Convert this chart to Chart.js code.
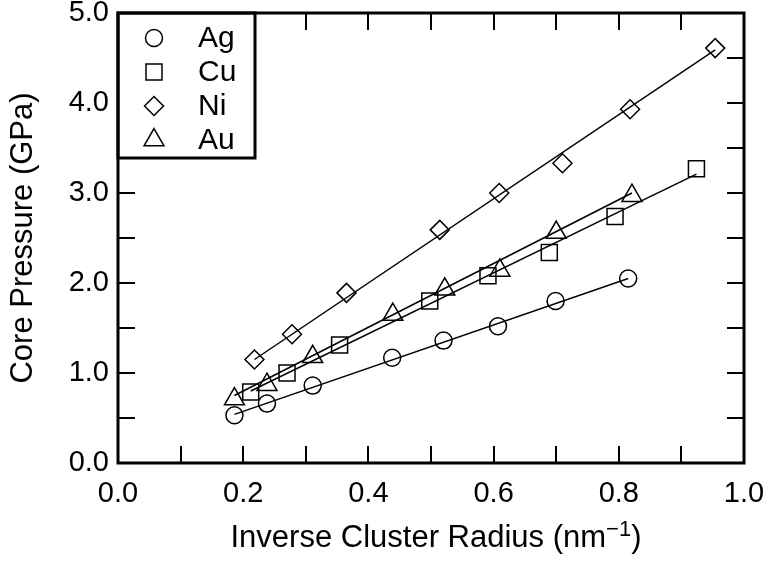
<!DOCTYPE html>
<html>
<head>
<meta charset="utf-8">
<script src="https://cdn.jsdelivr.net/npm/chart.js@4.4.1/dist/chart.umd.min.js"></script>
<style>
    html, body { margin: 0; padding: 0; background: #fff; }
    #wrap { width: 773px; height: 561px; position: relative; }
</style>
</head>
<body>
<div id="wrap"><canvas id="pressure"></canvas></div>
<script>
// Core pressure vs inverse cluster radius

const FONT = '"Liberation Sans", Arial, Helvetica, sans-serif';

const agX = [0.186, 0.238, 0.311, 0.438, 0.520, 0.607, 0.699, 0.815];
const agY = [0.53, 0.66, 0.86, 1.17, 1.36, 1.52, 1.80, 2.05];
const cuX = [0.212, 0.270, 0.354, 0.498, 0.591, 0.689, 0.794, 0.924];
const cuY = [0.79, 1.00, 1.31, 1.80, 2.08, 2.34, 2.74, 3.27];
const niX = [0.218, 0.278, 0.365, 0.514, 0.609, 0.710, 0.818, 0.954];
const niY = [1.15, 1.43, 1.89, 2.59, 3.00, 3.33, 3.93, 4.61];
const auX = [0.186, 0.238, 0.311, 0.439, 0.522, 0.610, 0.700, 0.821];
const auY = [0.71, 0.87, 1.18, 1.65, 1.93, 2.14, 2.56, 2.97];

// linear fit end points
const agFitX = [0.186, 0.815], agFitY = [0.54, 2.05];
const cuFitX = [0.212, 0.924], cuFitY = [0.80, 3.21];
const niFitX = [0.218, 0.954], niFitY = [1.15, 4.59];
const auFitX = [0.186, 0.821], auFitY = [0.75, 3.00];

const xTicks = [0.0, 0.2, 0.4, 0.6, 0.8, 1.0];
const yTicks = [0.0, 1.0, 2.0, 3.0, 4.0, 5.0];

const zip = (xs, ys) => xs.map((x, i) => ({ x: x, y: ys[i] }));

function markers(label, xs, ys, style, radius) {
    return {
        label: label,
        data: zip(xs, ys),
        pointStyle: style,
        pointRadius: radius,
        pointHoverRadius: radius,
        pointBorderWidth: 1.5,
        pointBorderColor: '#000',
        pointBackgroundColor: 'rgba(0,0,0,0)',
        showLine: false,
        isMarker: true
    };
}

function fitLine(xs, ys) {
    return {
        label: 'fit',
        data: zip(xs, ys),
        showLine: true,
        borderColor: '#000',
        borderWidth: 1.5,
        pointRadius: 0,
        fill: false
    };
}

// frame, inward ticks, legend box and x title
const framePlugin = {
    id: 'frame',
    afterDraw(chart) {
        const ctx = chart.ctx;
        const a = chart.chartArea;
        const xs = chart.scales.x, ys = chart.scales.y;
        const tl = 17;
        ctx.save();
        ctx.strokeStyle = '#000';
        ctx.lineWidth = 2;
        ctx.beginPath();
        for (let i = 1; i < 10; i++) {
            const px = Math.round(xs.getPixelForValue(i / 10));
            ctx.moveTo(px, a.bottom); ctx.lineTo(px, a.bottom - tl);
            ctx.moveTo(px, a.top); ctx.lineTo(px, a.top + tl);
        }
        for (let i = 1; i < 10; i++) {
            const py = Math.round(ys.getPixelForValue(i / 2));
            ctx.moveTo(a.left, py); ctx.lineTo(a.left + tl, py);
            ctx.moveTo(a.right, py); ctx.lineTo(a.right - tl, py);
        }
        ctx.stroke();

        // legend
        const lx = a.left, ly = a.top, lw = 137, lh = 145;
        ctx.fillStyle = '#fff';
        ctx.fillRect(lx, ly, lw, lh);
        ctx.lineWidth = 3;
        ctx.strokeRect(lx, ly, lw, lh);

        const sets = chart.data.datasets.filter(d => d.isMarker);
        ctx.font = '30px ' + FONT;
        ctx.textBaseline = 'middle';
        ctx.textAlign = 'left';
        sets.forEach((d, i) => {
            const cy = ly + 25 + i * 34;
            ctx.fillStyle = 'rgba(0,0,0,0)';
            ctx.strokeStyle = '#000';
            ctx.lineWidth = 1.5;
            Chart.helpers.drawPoint(ctx, {
                pointStyle: d.pointStyle,
                radius: d.pointRadius,
                rotation: 0,
                borderWidth: 1.5
            }, lx + 36, cy);
            ctx.fillStyle = '#000';
            ctx.fillText(d.label, lx + 80, cy + 1);
        });

        // x title with superscript
        const main = 'Inverse Cluster Radius (nm';
        const sup = '\u22121';
        const close = ')';
        ctx.fillStyle = '#000';
        ctx.textBaseline = 'alphabetic';
        ctx.font = '31px ' + FONT;
        const wMain = ctx.measureText(main).width;
        const wClose = ctx.measureText(close).width;
        ctx.font = '22px ' + FONT;
        const wSup = ctx.measureText(sup).width;
        const total = wMain + wSup + wClose;
        let tx = 436 - total / 2;
        const base = 547;
        ctx.font = '31px ' + FONT;
        ctx.fillText(main, tx, base);
        tx += wMain;
        ctx.font = '22px ' + FONT;
        ctx.fillText(sup, tx, base - 11);
        tx += wSup;
        ctx.font = '31px ' + FONT;
        ctx.fillText(close, tx, base);

        // outer frame
        ctx.lineWidth = 3;
        ctx.strokeRect(a.left, a.top, a.right - a.left, a.bottom - a.top);
        ctx.restore();
    }
};

new Chart(document.getElementById('pressure'), {
    type: 'scatter',
    data: {
        datasets: [
            fitLine(agFitX, agFitY),
            fitLine(cuFitX, cuFitY),
            fitLine(niFitX, niFitY),
            fitLine(auFitX, auFitY),
            markers('Ag', agX, agY, 'circle', 8.5),
            markers('Cu', cuX, cuY, 'rect', 11.3),
            markers('Ni', niX, niY, 'rectRot', 9.5),
            markers('Au', auX, auY, 'triangle', 11.5)
        ]
    },
    options: {
        responsive: true,
        maintainAspectRatio: false,
        animation: false,
        layout: {
            autoPadding: false,
            padding: { top: 13, right: 29, bottom: 0, left: 0 }
        },
        plugins: {
            legend: { display: false },
            tooltip: { enabled: false }
        },
        scales: {
            x: {
                type: 'linear',
                min: 0,
                max: 1,
                afterFit: s => {
                    s.height = 98;
                    s.paddingLeft = 0;
                    s.paddingRight = 0;
                },
                afterBuildTicks: s => { s.ticks = xTicks.map(v => ({ value: v })); },
                grid: { display: false, drawTicks: false },
                border: { display: false },
                ticks: {
                    color: '#000',
                    padding: 16,
                    font: { family: FONT, size: 29, lineHeight: 1 },
                    maxRotation: 0,
                    callback: v => v.toFixed(1)
                }
            },
            y: {
                type: 'linear',
                min: 0,
                max: 5,
                afterFit: s => {
                    s.width = 118;
                    s.paddingTop = 0;
                    s.paddingBottom = 0;
                },
                afterBuildTicks: s => { s.ticks = yTicks.map(v => ({ value: v })); },
                grid: { display: false, drawTicks: false },
                border: { display: false },
                ticks: {
                    color: '#000',
                    padding: 9,
                    font: { family: FONT, size: 29, lineHeight: 1 },
                    callback: v => v.toFixed(1)
                },
                title: {
                    display: true,
                    text: 'Core Pressure (GPa)',
                    color: '#000',
                    padding: { top: 5, bottom: 0 },
                    font: { family: FONT, size: 31, lineHeight: 1.2 }
                }
            }
        }
    },
    plugins: [framePlugin]
});
</script>
</body>
</html>
